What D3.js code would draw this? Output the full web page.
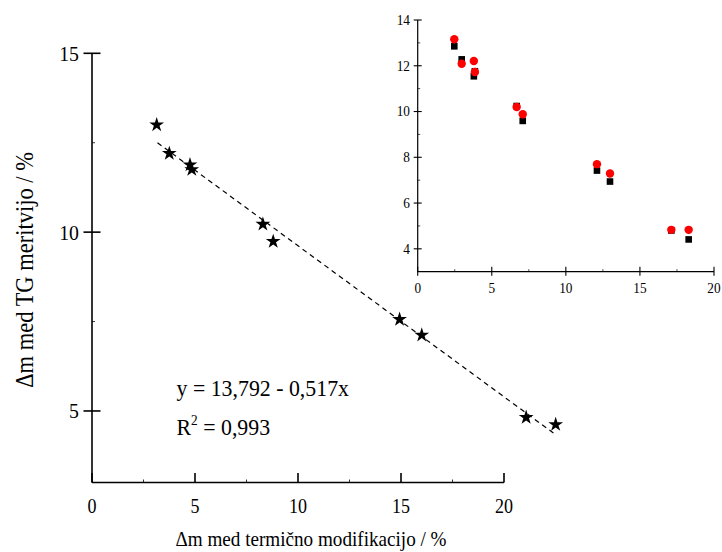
<!DOCTYPE html>
<html>
<head>
<meta charset="utf-8">
<script src="https://cdn.jsdelivr.net/npm/d3@7"></script>
<style>
  html, body { margin: 0; padding: 0; background: #fff; }
  svg { display: block; }
  text { font-family: "Liberation Serif", "Times New Roman", serif; fill: #000; }
</style>
</head>
<body>
<svg id="chart" width="722" height="552"></svg>
<script>
// Mass loss during thermal modification (x) vs. mass loss from TG measurement
const modLoss   = [2.47, 2.97, 3.79, 3.86, 6.68, 7.09, 12.10, 12.98, 17.12, 18.29];
const tgMean    = [13.00, 12.20, 11.88, 11.75, 10.22, 9.74, 7.56, 7.12, 4.82, 4.62];
// inset: the two individual TG series
const tgRed     = [13.16, 12.09, 12.21, 11.73, 10.20, 9.88, 7.70, 7.29, 4.83, 4.83];
const tgBlack   = [12.85, 12.28, 11.54, 11.76, 10.24, 9.59, 7.42, 6.94, 4.80, 4.41];

// regression y = a - b x
const fitA = 13.792, fitB = 0.517, fitR2 = 0.993;
const fitRange = [2.5, 18.3];

const mainXTicks = [0, 5, 10, 15, 20];
const mainYTicks = [5, 10, 15];
const insetXTicks = [0, 5, 10, 15, 20];
const insetYTicks = [4, 6, 8, 10, 12, 14];

const svg = d3.select("#chart");

// condensed serif text helper
function label(g, x, y, str, size, sx, anchor, rot) {
  return g.append("text")
    .attr("transform", `translate(${x},${y}) rotate(${rot || 0}) scale(${sx},1)`)
    .attr("text-anchor", anchor || "start")
    .attr("font-size", size)
    .text(str);
}

// ---------- main panel ----------
const xAxisScale = d3.scaleLinear().domain([0, 20]).range([92, 504]);   // printed axis
const xData      = d3.scaleLinear().domain([0, 20]).range([94.4, 598.8]); // marker layer
const y          = d3.scaleLinear().domain([3, 15]).range([482.5, 53.3]);

const main = svg.append("g");

// axes lines
main.append("line").attr("x1", xAxisScale(0)).attr("x2", xAxisScale(20))
  .attr("y1", y(3)).attr("y2", y(3)).attr("stroke", "#000").attr("stroke-width", 1.6);
main.append("line").attr("x1", xAxisScale(0)).attr("x2", xAxisScale(0))
  .attr("y1", y(3)).attr("y2", y(15)).attr("stroke", "#000").attr("stroke-width", 1.6);

// x ticks (inward) and minor ticks
mainXTicks.forEach(v => {
  main.append("line").attr("x1", xAxisScale(v)).attr("x2", xAxisScale(v))
    .attr("y1", y(3)).attr("y2", y(3) - 9.5).attr("stroke", "#000").attr("stroke-width", 1.6);
  label(main, xAxisScale(v), 513, String(v), 22, 0.82, "middle");
});
[2.5, 7.5, 12.5, 17.5].forEach(v => {
  main.append("line").attr("x1", xAxisScale(v)).attr("x2", xAxisScale(v))
    .attr("y1", y(3)).attr("y2", y(3) - 3).attr("stroke", "#000").attr("stroke-width", 0.8);
});

// y ticks (crossing) and minor ticks
mainYTicks.forEach(v => {
  main.append("line").attr("x1", xAxisScale(0) - 8.5).attr("x2", xAxisScale(0) + 8.5)
    .attr("y1", y(v)).attr("y2", y(v)).attr("stroke", "#000").attr("stroke-width", 1.6);
  label(main, 79, y(v) + 7.5, String(v), 22, 0.9, "end");
});
[7.5, 12.5].forEach(v => {
  main.append("line").attr("x1", xAxisScale(0)).attr("x2", xAxisScale(0) + 3)
    .attr("y1", y(v)).attr("y2", y(v)).attr("stroke", "#000").attr("stroke-width", 0.8);
});

// axis titles
label(main, 311, 546, "Δm med termično modifikacijo / %", 22, 0.87, "middle");
label(main, 33, 270, "Δm med TG meritvijo / %", 25, 0.9, "middle", -90);

// regression line
const fitLine = d3.line().x(d => xData(d)).y(d => y(fitA - fitB * d));
main.append("path").attr("d", fitLine(fitRange))
  .attr("fill", "none").attr("stroke", "#000").attr("stroke-width", 1.2)
  .attr("stroke-dasharray", "5,4");

// star markers
const star = d3.symbol().type(d3.symbolStar).size(68);
main.selectAll("path.star").data(modLoss).enter().append("path")
  .attr("class", "star")
  .attr("d", star)
  .attr("transform", (d, i) => `translate(${xData(d)},${y(tgMean[i])})`)
  .attr("fill", "#000");

// equation
label(main, 176.5, 396, `y = ${String(fitA).replace(".", ",")} - ${String(fitB).replace(".", ",")}x`, 23, 0.95, "start");
const r2 = main.append("text")
  .attr("transform", "translate(176.5,435) scale(0.95,1)")
  .attr("font-size", 23);
r2.append("tspan").text("R");
r2.append("tspan").attr("font-size", 14).attr("dy", -10).text("2");
r2.append("tspan").attr("dy", 10).text(` = ${String(fitR2).replace(".", ",")}`);

// ---------- inset panel ----------
const ix = d3.scaleLinear().domain([0, 20]).range([417.7, 714]);
const iy = d3.scaleLinear().domain([3, 14]).range([271.7, 20]);
const inset = svg.append("g");

inset.append("line").attr("x1", ix(0)).attr("x2", ix(20)).attr("y1", iy(3)).attr("y2", iy(3))
  .attr("stroke", "#000").attr("stroke-width", 1.2);
inset.append("line").attr("x1", ix(0)).attr("x2", ix(0)).attr("y1", iy(3)).attr("y2", iy(14))
  .attr("stroke", "#000").attr("stroke-width", 1.2);

insetXTicks.forEach(v => {
  inset.append("line").attr("x1", ix(v)).attr("x2", ix(v)).attr("y1", iy(3) - 5).attr("y2", iy(3) + 4)
    .attr("stroke", "#000").attr("stroke-width", 1.1);
  label(inset, ix(v), 293, String(v), 14, 0.95, "middle");
});
[2.5, 7.5, 12.5, 17.5].forEach(v => {
  inset.append("line").attr("x1", ix(v)).attr("x2", ix(v)).attr("y1", iy(3)).attr("y2", iy(3) - 2.5)
    .attr("stroke", "#000").attr("stroke-width", 0.7);
});
insetYTicks.forEach(v => {
  inset.append("line").attr("x1", ix(0) - 4).attr("x2", ix(0) + 4).attr("y1", iy(v)).attr("y2", iy(v))
    .attr("stroke", "#000").attr("stroke-width", 1.1);
  label(inset, 410, iy(v) + 4.8, String(v), 14, 0.95, "end");
});
[5, 7, 9, 11, 13].forEach(v => {
  inset.append("line").attr("x1", ix(0)).attr("x2", ix(0) + 2.5).attr("y1", iy(v)).attr("y2", iy(v))
    .attr("stroke", "#000").attr("stroke-width", 0.7);
});

// black squares, then red circles on top
inset.selectAll("rect.sq").data(modLoss).enter().append("rect")
  .attr("class", "sq")
  .attr("x", d => ix(d) - 3.3)
  .attr("y", (d, i) => iy(tgBlack[i]) - 3.3)
  .attr("width", 6.6).attr("height", 6.6)
  .attr("fill", "#000");
inset.selectAll("circle.rd").data(modLoss).enter().append("circle")
  .attr("class", "rd")
  .attr("cx", d => ix(d))
  .attr("cy", (d, i) => iy(tgRed[i]))
  .attr("r", 4.2)
  .attr("fill", "#ff0000");
</script>
</body>
</html>
